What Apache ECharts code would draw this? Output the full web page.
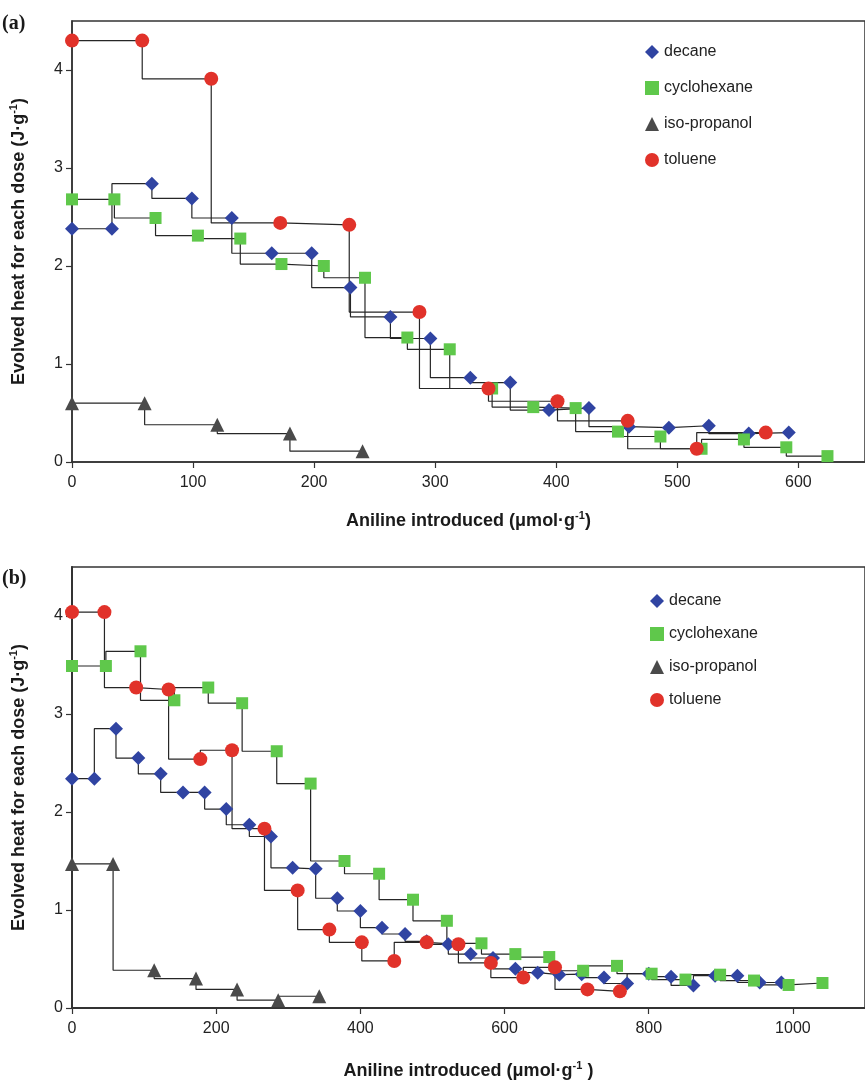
<!DOCTYPE html>
<html>
<head>
<meta charset="utf-8">
<title>Evolved heat for each dose vs aniline introduced</title>
<script src="https://cdn.jsdelivr.net/npm/echarts@6/dist/echarts.min.js"></script>
<style>
  html, body { margin: 0; padding: 0; background: #fff; }
  #chart { width: 865px; height: 1084px; }
</style>
</head>
<body>
<div id="chart"></div>
<script>
var solventNames = ['decane', 'cyclohexane', 'iso-propanol', 'toluene'];

// panel (a)
var decaneAX = [0, 33, 66, 99, 132, 165, 198, 230, 263, 296, 329, 362, 394, 427, 460, 493, 526, 559, 592];
var decaneAY = [2.38, 2.38, 2.84, 2.69, 2.49, 2.13, 2.13, 1.78, 1.48, 1.26, 0.86, 0.81, 0.53, 0.55, 0.36, 0.35, 0.37, 0.29, 0.30];
var cycloAX = [0, 35, 69, 104, 139, 173, 208, 242, 277, 312, 347, 381, 416, 451, 486, 520, 555, 590, 624];
var cycloAY = [2.68, 2.68, 2.49, 2.31, 2.28, 2.02, 2.00, 1.88, 1.27, 1.15, 0.75, 0.56, 0.55, 0.31, 0.26, 0.135, 0.23, 0.15, 0.06];
var isoAX = [0, 60, 120, 180, 240];
var isoAY = [0.60, 0.60, 0.38, 0.29, 0.11];
var tolAX = [0, 58, 115, 172, 229, 287, 344, 401, 459, 516, 573];
var tolAY = [4.30, 4.30, 3.91, 2.44, 2.42, 1.53, 0.75, 0.62, 0.42, 0.135, 0.30];

// panel (b)
var decaneBX = [0, 31, 61, 92, 123, 154, 184, 214, 246, 276, 306, 338, 368, 400, 430, 462, 492, 522, 553, 584, 615, 646, 676, 707, 738, 770, 800, 831, 862, 892, 923, 954, 984];
var decaneBY = [2.34, 2.34, 2.85, 2.55, 2.39, 2.20, 2.20, 2.03, 1.87, 1.75, 1.43, 1.42, 1.12, 0.99, 0.82, 0.755, 0.68, 0.65, 0.55, 0.51, 0.40, 0.36, 0.34, 0.345, 0.31, 0.25, 0.35, 0.32, 0.23, 0.33, 0.33, 0.26, 0.26];
var cycloBX = [0, 47, 95, 142, 189, 236, 284, 331, 378, 426, 473, 520, 568, 615, 662, 709, 756, 804, 851, 899, 946, 994, 1041];
var cycloBY = [3.49, 3.49, 3.64, 3.14, 3.27, 3.11, 2.62, 2.29, 1.50, 1.37, 1.105, 0.89, 0.66, 0.55, 0.52, 0.38, 0.43, 0.35, 0.29, 0.34, 0.28, 0.235, 0.255];
var isoBX = [0, 57, 114, 172, 229, 286, 343];
var isoBY = [1.47, 1.47, 0.385, 0.30, 0.19, 0.08, 0.12];
var tolBX = [0, 45, 89, 134, 178, 222, 267, 313, 357, 402, 447, 492, 536, 581, 626, 670, 715, 760];
var tolBY = [4.04, 4.04, 3.27, 3.25, 2.54, 2.63, 1.83, 1.20, 0.80, 0.67, 0.48, 0.67, 0.65, 0.46, 0.31, 0.415, 0.19, 0.17];

(function (echarts) {
  'use strict';

  var SANS = '"Liberation Sans", Arial, sans-serif';
  var SYMBOLS = { 'decane': 'diamond', 'cyclohexane': 'rect', 'iso-propanol': 'triangle', 'toluene': 'circle' };
  var SIZES = { 'decane': 14, 'cyclohexane': 12, 'iso-propanol': 14, 'toluene': 14 };
  var COLORS = { 'decane': '#3044a2', 'cyclohexane': '#5fc84b', 'iso-propanol': '#4a4a4a', 'toluene': '#e1322a' };

  function pairs(xs, ys) {
    var out = [];
    for (var i = 0; i < xs.length; i++) {
      out.push([xs[i], ys[i]]);
    }
    return out;
  }

  function stepSeries(name, xs, ys, idx) {
    return {
      name: name,
      type: 'line',
      step: 'start',
      xAxisIndex: idx,
      yAxisIndex: idx,
      data: pairs(xs, ys),
      symbol: SYMBOLS[name],
      symbolSize: SIZES[name],
      showAllSymbol: true,
      itemStyle: { color: COLORS[name] },
      lineStyle: { color: '#262626', width: 1.2 },
      emphasis: { disabled: true },
      animation: false
    };
  }

  var nameStyle = {
    fontSize: 18,
    fontWeight: 'bold',
    color: '#1a1a1a',
    fontFamily: SANS,
    lineHeight: 22,
    rich: {
      sup: { fontSize: 11, fontWeight: 'bold', fontFamily: SANS, color: '#1a1a1a', verticalAlign: 'top', lineHeight: 22 }
    }
  };

  function plainNumber(v) {
    return String(v);
  }

  function xAxis(idx, max, interval, lineW, title, gap) {
    return {
      gridIndex: idx,
      type: 'value',
      min: 0,
      max: max,
      interval: interval,
      axisLine: { show: true, onZero: false, lineStyle: { color: '#333', width: lineW } },
      axisTick: { show: true, length: 6, lineStyle: { color: '#333', width: 1.2 } },
      axisLabel: { showMaxLabel: false, fontSize: 16, color: '#222', fontFamily: SANS, margin: 13, formatter: plainNumber },
      splitLine: { show: false },
      name: title,
      nameLocation: 'middle',
      nameGap: gap,
      nameTextStyle: nameStyle
    };
  }

  function yAxis(idx, lineW) {
    return {
      gridIndex: idx,
      type: 'value',
      min: 0,
      max: 4.5,
      interval: 1,
      axisLine: { show: true, onZero: false, lineStyle: { color: '#333', width: lineW } },
      axisTick: { show: true, length: 6, lineStyle: { color: '#333', width: 1.2 } },
      axisLabel: { showMaxLabel: false, fontSize: 16, color: '#222', fontFamily: SANS, margin: 9, formatter: plainNumber },
      splitLine: { show: false },
      name: 'Evolved heat for each dose (J\u00b7g{sup|-1})',
      nameLocation: 'middle',
      nameGap: 42,
      nameTextStyle: nameStyle
    };
  }

  function legend(left, top, gap) {
    return {
      orient: 'vertical',
      left: left,
      top: top,
      padding: 0,
      itemWidth: 14,
      itemHeight: 14,
      itemGap: gap,
      selectedMode: false,
      textStyle: { fontSize: 16, color: '#222', fontFamily: SANS, lineHeight: 14 },
      data: solventNames.map(function (n) {
        return { name: n, icon: SYMBOLS[n] };
      })
    };
  }

  var chart = echarts.init(document.getElementById('chart'), null, { renderer: 'canvas' });

  var option = {
    backgroundColor: '#fff',
    animation: false,
    grid: [
      { left: 71, top: 21, right: -2, height: 441, show: true, borderColor: '#333', borderWidth: 1.5, backgroundColor: 'transparent' },
      { left: 70, top: 567, right: -2, height: 441, show: true, borderColor: '#333', borderWidth: 1.5, backgroundColor: 'transparent' }
    ],
    xAxis: [
      xAxis(0, 655, 100, 1.5, 'Aniline introduced (\u03bcmol\u00b7g{sup|-1})', 48),
      xAxis(1, 1100, 200, 2, 'Aniline introduced (\u03bcmol\u00b7g{sup|-1} )', 52)
    ],
    yAxis: [yAxis(0, 1.5), yAxis(1, 2)],
    legend: [legend(645, 44, 20), legend(650, 593, 17)],
    graphic: [
      { type: 'text', left: 2, top: 14, style: { text: '(a)', font: 'bold 20px "Liberation Serif", serif', fill: '#1a1a1a' } },
      { type: 'text', left: 2, top: 569, style: { text: '(b)', font: 'bold 20px "Liberation Serif", serif', fill: '#1a1a1a' } }
    ],
    series: [
      stepSeries('decane', decaneAX, decaneAY, 0),
      stepSeries('cyclohexane', cycloAX, cycloAY, 0),
      stepSeries('iso-propanol', isoAX, isoAY, 0),
      stepSeries('toluene', tolAX, tolAY, 0),
      stepSeries('decane', decaneBX, decaneBY, 1),
      stepSeries('cyclohexane', cycloBX, cycloBY, 1),
      stepSeries('iso-propanol', isoBX, isoBY, 1),
      stepSeries('toluene', tolBX, tolBY, 1)
    ]
  };

  chart.setOption(option);
})(echarts);
</script>
</body>
</html>
